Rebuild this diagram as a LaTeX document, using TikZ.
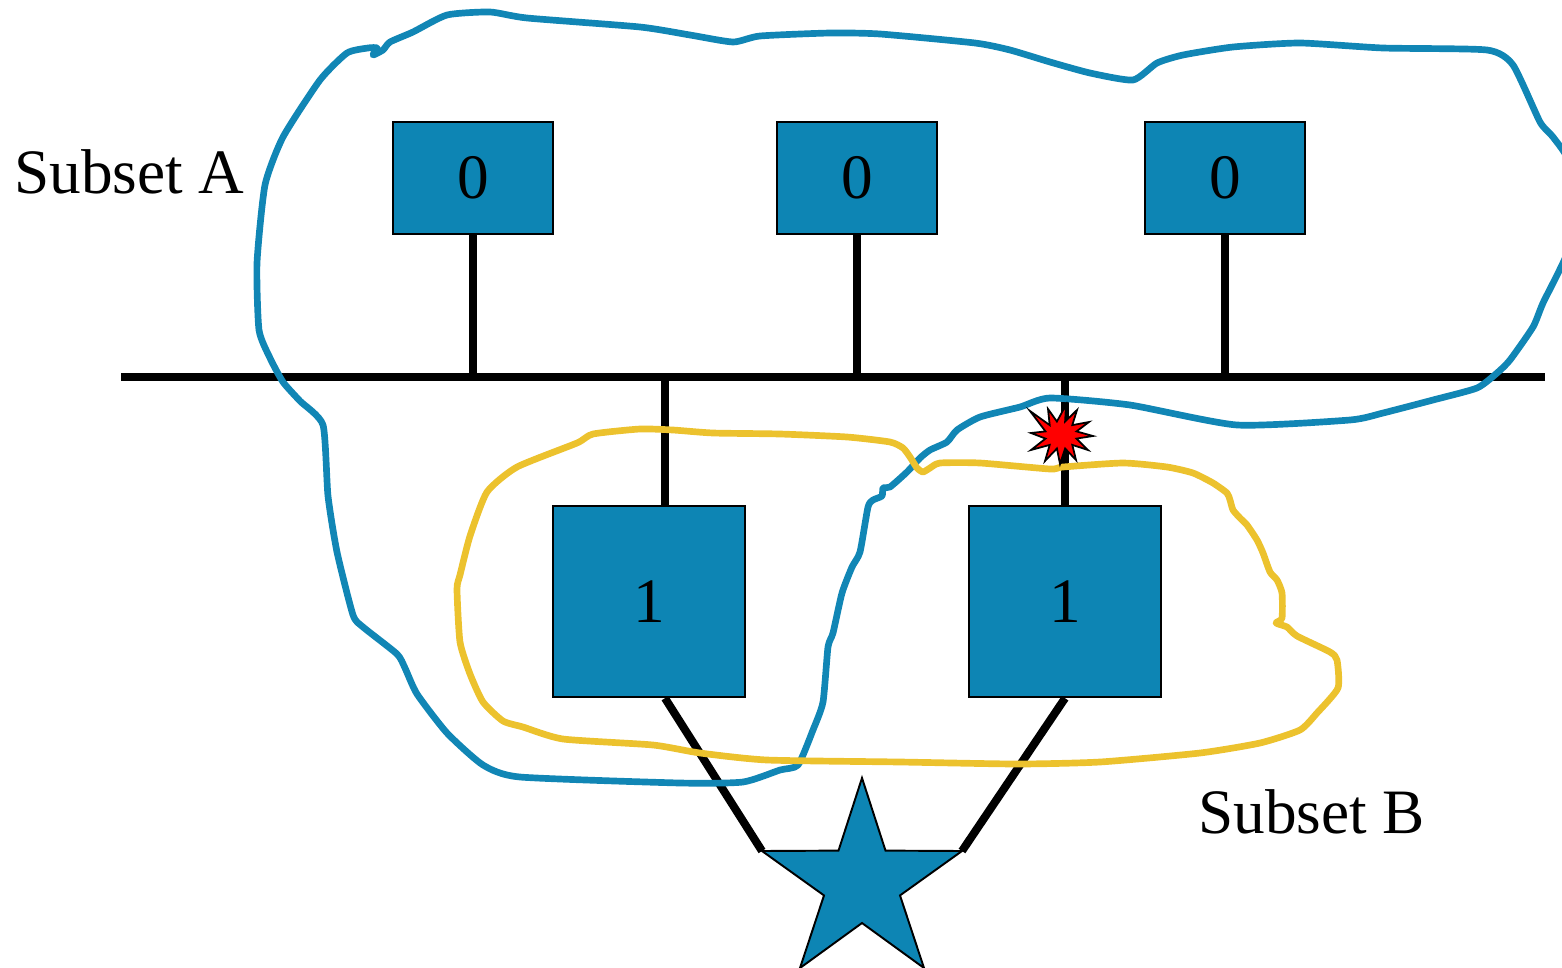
\documentclass[tikz,border=0pt]{standalone}
\usepackage{fontspec}
\setmainfont{Liberation Serif}
\usetikzlibrary{calc}
\definecolor{boxblue}{RGB}{13,133,180}
\definecolor{curveblue}{RGB}{17,134,181}
\definecolor{curveyellow}{RGB}{236,194,46}
\newfontfamily\figserif{Liberation Serif}
\tikzset{
  bigfont/.style={font=\figserif\fontsize{36}{40}\selectfont},
  topbox/.style={draw=black, line width=1.4pt, fill=boxblue, minimum width=3.2cm, minimum height=2.24cm, inner sep=0pt, bigfont},
  botbox/.style={draw=black, line width=1.4pt, fill=boxblue, minimum width=3.84cm, minimum height=3.82cm, inner sep=0pt, bigfont},
  wire/.style={draw=black, line width=4.6pt},
  blueloop/.style={draw=curveblue, line width=3.8pt, line join=round},
  yellowloop/.style={draw=curveyellow, line width=3.8pt, line join=round},
  textlabel/.style={bigfont, inner sep=0pt},
  boomstyle/.style={fill=red, draw=black, line width=1pt, line join=miter},
}
\begin{document}
\begin{tikzpicture}[x=0.02cm, y=-0.02cm]
\useasboundingbox (0,0) rectangle (1562,967);

% bus
\coordinate (busL) at (121,377);
\coordinate (busR) at (1545,377);
\draw[wire] (busL) -- (busR);

% top boxes
\node[topbox] (a1) at (473,178) {0};
\node[topbox] (a2) at (857,178) {0};
\node[topbox] (a3) at (1225,178) {0};
\draw[wire] (a1.south) -- (a1.south |- busL);
\draw[wire] (a2.south) -- (a2.south |- busL);
\draw[wire] (a3.south) -- (a3.south |- busL);

% bottom boxes
\node[botbox] (b1) at (649,601.5) {1};
\node[botbox] (b2) at (1065,601.5) {1};
\coordinate (b1top) at ($(b1.north)+(16,0)$);
\coordinate (b1bot) at ($(b1.south)+(16,0)$);
\draw[wire] (b1top) -- (b1top |- busL);
\draw[wire] (b2.north) -- (b2.north |- busL);

% star
\coordinate (starL) at (762,851);
\coordinate (starR) at (962,851);
\draw[wire] (b1bot) -- (starL);
\draw[wire] (b2.south) -- (starR);
\filldraw[fill=boxblue, draw=black, line width=1.1pt, line join=miter]
  (862,778) -- (885.5,850.6) -- (starR) -- (900,895.4) -- (924,968) -- (862,923)
  -- (800,968) -- (824,895.4) -- (starL) -- (838.5,850.6) -- cycle;

% labels
\node[textlabel, anchor=base west] (subA) at (14,193) {Subset A};
\node[textlabel, anchor=base west] (subB) at (1198,833) {Subset B};

% blue loop (Subset A)
\draw[blueloop] plot[smooth cycle, tension=0.35] coordinates {
 (283,137) (320,80) (347,53) (368,48) (377,48) (373,55) (383,50) (390,42) (413,32) (447,15)
 (490,12) (527,18) (640,27) (690,35) (733,42) (760,36) (830,33) (880,34) (975,43)
 (1010,50) (1050,62) (1090,73) (1133,80) (1157,63) (1183,55) (1233,47) (1300,43)
 (1383,48) (1487,50) (1513,65) (1540,122) (1553,137) (1570,165) (1572,240)
 (1543,303) (1533,327) (1510,360) (1497,373) (1477,388) (1433,400) (1383,413)
 (1350,420) (1237,425) (1130,405) (1050,398) (1020,407) (980,417) (957,430)
 (947,442) (930,450) (920,458) (907,472) (890,487) (883,488) (882,496) (873,500)
 (868,507) (860,552) (852,567) (842,593) (833,633) (828,647) (823,702) (813,730)
 (798,765) (780,770) (743,782) (680,783) (520,777) (483,765) (447,733) (417,694)
 (405,668) (397,654) (363,627) (353,615) (337,552) (328,496) (323,425) (300,401)
 (283,382) (270,358) (259,330) (257,263) (265,185)
};

% yellow loop (Subset B)
\draw[yellowloop] plot[smooth cycle, tension=0.35] coordinates {
 (593,434) (640,429) (673,430) (713,433) (780,434) (847,437) (890,442) (903,448)
 (910,457) (917,468) (923,472) (930,468) (940,463) (980,463) (1050,469) (1063,467)
 (1123,463) (1167,467) (1193,473) (1213,483) (1227,493) (1230,500) (1233,510)
 (1240,518) (1247,525) (1257,540) (1263,553) (1270,572) (1277,580) (1282,593)
 (1282,618) (1276,623) (1287,627) (1297,636) (1330,652) (1337,660) (1338,688)
 (1317,713) (1300,730) (1260,743) (1200,753) (1100,762) (1017,764) (900,762)
 (767,760) (700,753) (653,745) (563,739) (523,727) (503,721) (483,702) (470,674)
 (460,642) (457,589) (460,575) (470,536) (487,492) (517,467) (577,443)
};

% failure mark (explosion)
\coordinate (boom) at (1061,435);
\filldraw[boomstyle]
 (1093,436) -- (1076.5,438.6) -- (1088,450) -- (1072.3,444.9) -- (1076,460)
 -- (1065.1,448.5) -- (1060,464) -- (1056.9,448.5) -- (1045,461) -- (1049.7,444.9)
 -- (1031,450) -- (1045.5,438.6) -- (1031,433) -- (1045.5,431.4) -- (1030,411)
 -- (1049.7,425.1) -- (1048,409) -- (1056.9,421.5) -- (1066,405) -- (1065.1,421.5)
 -- (1077,410) -- (1072.3,425.1) -- (1089,422) -- (1076.5,431.4) -- cycle;
\end{tikzpicture}
\end{document}
